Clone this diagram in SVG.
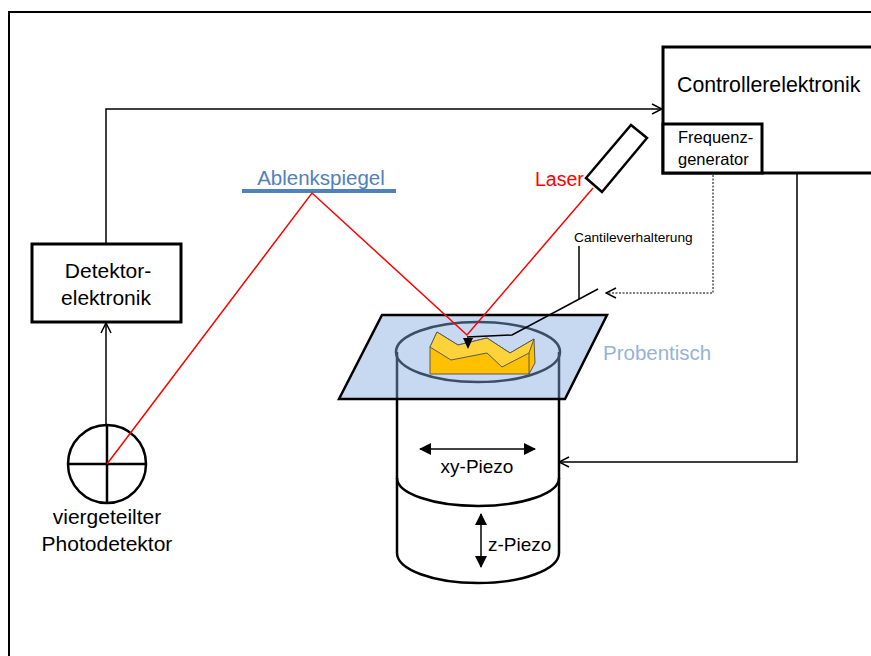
<svg xmlns="http://www.w3.org/2000/svg" width="871" height="656" viewBox="0 0 871 656">
  <style>
    .lbl { font-family: "Liberation Sans", "Noto Sans", Arial, sans-serif; fill: #000; }
    .box { fill: #fff; stroke: #000; stroke-width: 3; }
    .conn { fill: none; stroke: #000; stroke-width: 1.5; }
    .beam { fill: none; stroke: #ff0000; stroke-width: 1.5; }
    .thick { fill: none; stroke: #000; stroke-width: 2.5; }
  </style>
  <defs>
    <marker id="open" viewBox="0 0 12 12" refX="11" refY="6" markerWidth="12" markerHeight="12" markerUnits="userSpaceOnUse" orient="auto">
      <path d="M1,1 L11,6 L1,11" fill="none" stroke="#000" stroke-width="1.5"/>
    </marker>
    <marker id="solid" viewBox="0 0 12 12" refX="11" refY="6" markerWidth="12" markerHeight="12" markerUnits="userSpaceOnUse" orient="auto-start-reverse">
      <path d="M0,0 L12,6 L0,12 Z" fill="#000"/>
    </marker>
  </defs>

  <rect width="871" height="656" fill="#fff"/>
  <!-- outer frame -->
  <path d="M9,656 L9,12 L871,12" fill="none" stroke="#000" stroke-width="2"/>

  <!-- connectors -->
  <g id="connectors">
    <path class="conn" d="M106,244 L106,109 L662,109" marker-end="url(#open)"/>
    <path class="conn" d="M106,425 L106,323" marker-end="url(#open)"/>
    <path d="M713,175 L713,293 L606,293" fill="none" stroke="#555" stroke-width="1.5" stroke-dasharray="2,1.5" marker-end="url(#open)"/>
    <path class="conn" d="M797,174 L797,462 L559,462" marker-end="url(#open)"/>
  </g>

  <!-- controller electronics -->
  <g id="controller">
    <rect class="box" x="663" y="47" width="220" height="126"/>
    <text class="lbl" x="677" y="92" font-size="21.3">Controllerelektronik</text>
  </g>
  <g id="frequenzgenerator">
    <rect class="box" x="663" y="124" width="99" height="49"/>
    <text class="lbl" x="678" y="143" font-size="16.5">Frequenz-</text>
    <text class="lbl" x="678" y="165" font-size="16.5">generator</text>
  </g>

  <!-- detector electronics -->
  <g id="detektorelektronik">
    <rect class="box" x="32" y="244" width="149" height="78"/>
    <text class="lbl" x="108" y="278" font-size="21" text-anchor="middle">Detektor-</text>
    <text class="lbl" x="106" y="305" font-size="21" text-anchor="middle">elektronik</text>
  </g>

  <!-- quadrant photodetector -->
  <g id="photodetektor">
    <circle cx="107" cy="464" r="39" class="thick"/>
    <line x1="68" y1="464" x2="146" y2="464" class="thick"/>
    <line x1="107" y1="425" x2="107" y2="503" class="thick"/>
    <text class="lbl" x="107" y="524" font-size="21" text-anchor="middle">viergeteilter</text>
    <text class="lbl" x="107" y="551" font-size="21" text-anchor="middle">Photodetektor</text>
  </g>

  <!-- deflection mirror -->
  <g id="ablenkspiegel">
    <line x1="242" y1="191" x2="396" y2="191" stroke="#4f81bd" stroke-width="4"/>
    <text class="lbl" x="321" y="185" font-size="20.5" text-anchor="middle" style="fill:#4f81bd">Ablenkspiegel</text>
  </g>

  <!-- laser -->
  <g id="laser">
    <polygon points="586,178 602,192 647,138 631,125" fill="#fff" stroke="#000" stroke-width="2.5"/>
    <text class="lbl" x="535" y="186" font-size="19.5" style="fill:#ff0000">Laser</text>
  </g>

  <!-- piezo cylinder -->
  <g id="piezo">
    <path d="M397,399 L397,553 A81,30 0 0 0 559,553 L559,399" fill="#fff" stroke="#000" stroke-width="2.5"/>
    <path d="M397,478 A81,28 0 0 0 559,478" fill="none" stroke="#000" stroke-width="2.5"/>
    <line x1="420" y1="449" x2="535" y2="449" stroke="#000" stroke-width="1.5" marker-start="url(#solid)" marker-end="url(#solid)"/>
    <text class="lbl" x="477" y="473" font-size="19" text-anchor="middle">xy-Piezo</text>
    <line x1="481" y1="514" x2="481" y2="567" stroke="#000" stroke-width="1.5" marker-start="url(#solid)" marker-end="url(#solid)"/>
    <text class="lbl" x="488" y="551" font-size="19">z-Piezo</text>
  </g>

  <!-- sample stage -->
  <g id="probentisch">
    <polygon points="382,315 607,315 565,399 339,399" fill="#c6d9f1"/>
    <line x1="397" y1="352" x2="397" y2="399" stroke="#3c4e66" stroke-width="2.5"/>
    <line x1="559" y1="352" x2="559" y2="399" stroke="#3c4e66" stroke-width="2.5"/>
    <ellipse cx="478" cy="352" rx="82" ry="30" fill="none" stroke="#3c4e66" stroke-width="2.5"/>
    <polygon points="382,315 607,315 565,399 339,399" fill="none" stroke="#000" stroke-width="2.5"/>
    <text class="lbl" x="603" y="360" font-size="20.5" style="fill:#95b3d7">Probentisch</text>
  </g>

  <!-- sample -->
  <g id="probe">
    <polygon points="430,347 437,332 458,345 487,338 510,353 534,339 535,363 529,374 430,374" fill="#ffc000" stroke="#5a5a5a" stroke-width="1"/>
    <polygon points="430,347 437,332 458,345 487,338 510,353 534,339 529,353 502,367 487,353 451,360" fill="#ffd23a" stroke="#5a5a5a" stroke-width="1"/>
    <line x1="529" y1="353" x2="529" y2="374" stroke="#5a5a5a" stroke-width="1"/>
  </g>

  <!-- laser beam path -->
  <g id="beam">
    <polyline class="beam" points="107,464 312,193 467,335 593,188"/>
  </g>

  <!-- cantilever with holder -->
  <g id="cantilever">
    <polyline points="598,289 512,335 467,337" fill="none" stroke="#000" stroke-width="1.5"/>
    <line x1="579" y1="246" x2="579" y2="299" stroke="#000" stroke-width="1.5"/>
    <polygon points="463,338 473,338 468,349" fill="#000"/>
    <text class="lbl" x="574" y="242" font-size="13.7">Cantileverhalterung</text>
  </g>
</svg>
